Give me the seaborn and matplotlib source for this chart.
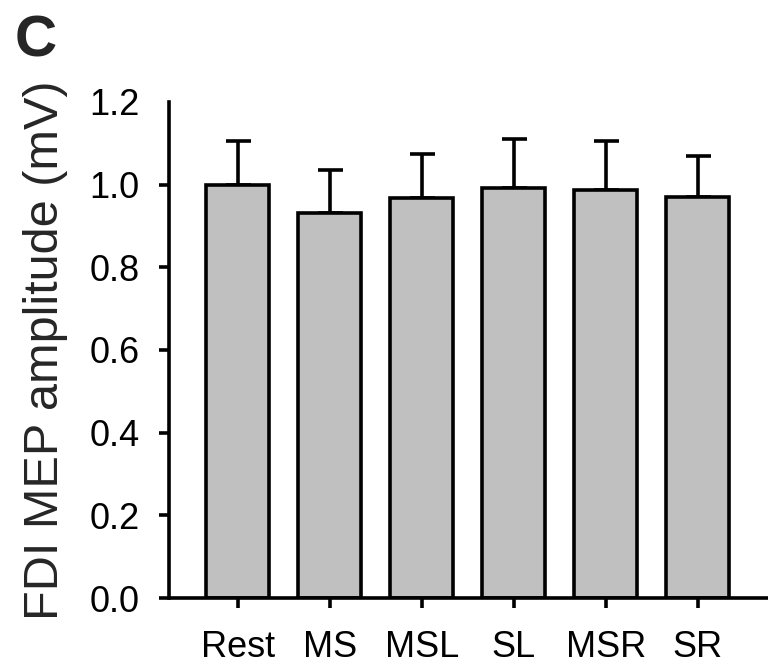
import matplotlib
matplotlib.use("Agg")
import matplotlib.pyplot as plt
import seaborn as sns
import pandas as pd
import numpy as np

# Mean FDI MEP amplitude per condition with upper error (mV)
conditions = ["Rest", "MS", "MSL", "SL", "MSR", "SR"]
mep_mean = [1.000, 0.931, 0.968, 0.992, 0.986, 0.969]
mep_err = [0.105, 0.105, 0.105, 0.117, 0.120, 0.099]
y_ticks = [0.0, 0.2, 0.4, 0.6, 0.8, 1.0, 1.2]

sns.set_style("ticks")
plt.rcParams["font.family"] = ["Liberation Sans", "DejaVu Sans"]

df = pd.DataFrame({"condition": conditions, "amplitude": mep_mean})

fig = plt.figure(figsize=(7.68, 6.69), dpi=100)
ax = fig.add_axes([0.2201, 0.1061, 0.7799, 0.7417])

lw = 2.6
sns.barplot(data=df, x="condition", y="amplitude", order=conditions,
            color="#c0c0c0", saturation=1, width=0.68, errorbar=None,
            edgecolor="black", linewidth=lw, ax=ax, zorder=3)

xpos = np.arange(len(conditions))
eb = ax.errorbar(xpos, mep_mean, yerr=[np.zeros(len(mep_err)), mep_err],
                 fmt="none", ecolor="black", elinewidth=lw, capsize=9,
                 capthick=lw, zorder=2)
for cap in eb[1]:
    cap.set_solid_capstyle("round")

ax.set_ylim(0, 1.2)
ax.set_xlim(-0.747, 5.764)
ax.set_yticks(y_ticks)
ax.set_yticklabels([f"{v:.1f}" for v in y_ticks])
ax.set_xlabel("")
ax.set_ylabel("FDI MEP amplitude (mV)", fontsize=35, labelpad=15)

ax.tick_params(axis="both", direction="out", length=7.2, width=lw,
               labelsize=26, color="black", labelcolor="black")
ax.tick_params(axis="x", pad=16)
ax.tick_params(axis="y", pad=14)
ax.yaxis.get_major_ticks()[-1].tick1line.set_visible(False)

for side in ["top", "right"]:
    ax.spines[side].set_visible(False)
for side in ["left", "bottom"]:
    ax.spines[side].set_linewidth(lw)
    ax.spines[side].set_color("black")
    ax.spines[side].set_zorder(4)
ax.spines["bottom"].set_capstyle("butt")

fig.text(0.019, 0.978, "C", fontsize=42, fontweight="bold", ha="left", va="top")

fig.savefig("out.png", dpi=100, facecolor="white")
